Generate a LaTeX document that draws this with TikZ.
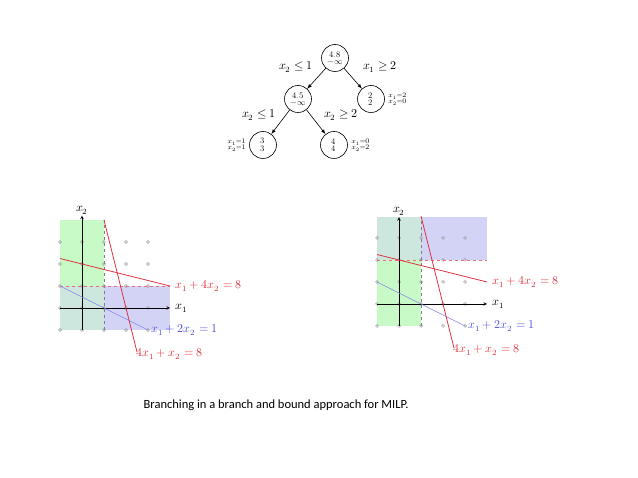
\documentclass[tikz,border=0pt]{standalone}
\usepackage{fontspec}
\setmainfont{Carlito}
\usepackage{unicode-math}
\setmathfont{Latin Modern Math}
\tikzset{every picture/.style={line width=0.6pt}}
\tikzset{
  bbnode/.style={draw,circle,minimum size=27pt,inner sep=0pt,align=center,font=\fontsize{8.5}{8.5}\selectfont},
  bblabel/.style={font=\fontsize{12}{12}\selectfont},
  sidelabel/.style={align=left,font=\fontsize{7}{7}\selectfont},
  gridpt/.style={draw=gray!80,line width=0.5pt},
  eqlabel/.style={anchor=west,font=\fontsize{12}{12}\selectfont,inner sep=1pt,xshift=4pt}
}
\definecolor{lpred}{RGB}{220,50,60}
\definecolor{lpblue}{RGB}{80,80,220}
\definecolor{lpgreen}{RGB}{200,250,200}
\begin{document}
\begin{tikzpicture}[x=1pt,y=1pt,yscale=-1,xscale=1]
\useasboundingbox (0,0) rectangle (638,478);

%Tree nodes
\node[bbnode] (root) at (335,58) {$4.8$\\[-1pt]$-\infty$};
\node[bbnode] (left) at (298,99) {$4.5$\\[-1pt]$-\infty$};
\node[bbnode] (right) at (371,99) {$2$\\[-1pt]$2$};
\node[bbnode] (ll) at (263,145) {$3$\\[-1pt]$3$};
\node[bbnode] (lr) at (334,145) {$4$\\[-1pt]$4$};
%Tree edges
\draw[-latex] (root) -- (left);
\draw[-latex] (root) -- (right);
\draw[-latex] (left) -- (ll);
\draw[-latex] (left) -- (lr);
% Text Nodes
\node[bblabel] (b1) at (296,67) {$x_2\le 1$};
\node[bblabel] (b2) at (380,67) {$x_1\ge 2$};
\node[bblabel] (b3) at (259,115) {$x_2\le 1$};
\node[bblabel] (b4) at (341,115) {$x_2\ge 2$};
\node[sidelabel,anchor=west] (s1) at (right.east) {$x_1{=}2$\\[-1pt]$x_2{=}0$};
\node[sidelabel,anchor=east] (s2) at (ll.west) {$x_1{=}1$\\[-1pt]$x_2{=}1$};
\node[sidelabel,anchor=west] (s3) at (lr.east) {$x_1{=}0$\\[-1pt]$x_2{=}2$};

%Left plot
\begin{scope}[shift={(82,308)},x=22pt,y=-22pt]
  \fill[lpgreen] (-1,1) rectangle (1,4);
  \fill[lpblue!25] (-1,-1) rectangle (4,1);
  \fill[lpgreen,opacity=0.5] (-1,-1) rectangle (1,1);
  \foreach \i in {-1,...,3}
    \foreach \j in {-1,...,3}
      \draw[gridpt] (\i,\j) circle (1.4pt);
  \draw[gray,dashed,line width=0.4pt] (1,-1) -- (1,4);
  \draw[lpred!70,dashed,line width=0.5pt] (-1,1) -- (4,1);
  \draw[-stealth] (-1,0) -- (4,0) node[eqlabel] {$x_1$};
  \draw[-stealth] (0,-1) -- (0,4.2) node[above,font=\fontsize{12}{12}\selectfont,inner sep=1pt] {$x_2$};
  \draw[lpblue!70] (-1,1) -- (3,-1) node[eqlabel,xshift=-2pt,text=lpblue] {$x_1+2x_2=1$};
  \draw[lpred,line width=0.8pt] (-1,2.25) -- (4,1) node[eqlabel,text=lpred] {$x_1+4x_2=8$};
  \draw[lpred,line width=0.8pt] (1,4) -- (2.5,-2) node[eqlabel,xshift=-6pt,yshift=-2pt,text=lpred] {$4x_1+x_2=8$};
\end{scope}

%Right plot
\begin{scope}[shift={(399,304)},x=22pt,y=-22pt]
  \fill[lpblue!25] (-1,2) rectangle (4,3.95);
  \fill[lpgreen] (-1,-1) rectangle (1,2);
  \fill[lpgreen,opacity=0.5] (-1,2) rectangle (1,3.95);
  \foreach \i in {-1,...,3}
    \foreach \j in {-1,...,3}
      \draw[gridpt] (\i,\j) circle (1.4pt);
  \draw[gray,dashed,line width=0.4pt] (1,-1) -- (1,3.95);
  \draw[lpred!70,dashed,line width=0.5pt] (-1,2) -- (4,2);
  \draw[-stealth] (-1,0) -- (4,0) node[eqlabel] {$x_1$};
  \draw[-stealth] (0,-1) -- (0,3.95) node[above,font=\fontsize{12}{12}\selectfont,inner sep=1pt] {$x_2$};
  \draw[lpblue!70] (-1,1) -- (3,-1) node[eqlabel,xshift=-2pt,text=lpblue] {$x_1+2x_2=1$};
  \draw[lpred,line width=0.8pt] (-1,2.25) -- (4,1) node[eqlabel,text=lpred] {$x_1+4x_2=8$};
  \draw[lpred,line width=0.8pt] (1,4) -- (2.5,-2) node[eqlabel,xshift=-6pt,yshift=-2pt,text=lpred] {$4x_1+x_2=8$};
\end{scope}

% Caption
\node[anchor=west,font=\fontsize{12.5}{12.5}\selectfont] (caption) at (140,405) {Branching in a branch and bound approach for MILP.};
\end{tikzpicture}
\end{document}
